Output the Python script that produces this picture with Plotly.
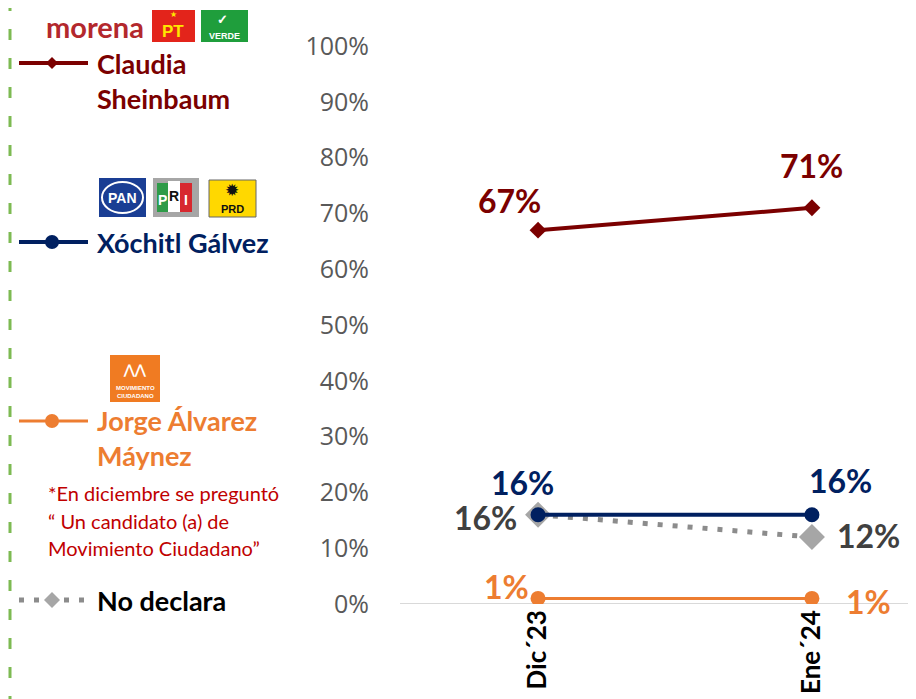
import plotly.graph_objects as go

# --- datos ---
meses = ["Dic´23", "Ene´24"]
claudia = [67, 71]
xochitl = [16, 16]
jorge = [1, 1]
no_declara = [16, 12]
y_ticks = [0, 10, 20, 30, 40, 50, 60, 70, 80, 90, 100]
y_tick_labels = [f"{v}%" for v in y_ticks]

ROJO = "#7b0000"
AZUL = "#002060"
NARANJA = "#ed7d31"
GRIS = "#a6a6a6"
FUENTE = "Lato"

# la página tiene 8px de margen en el body: se descuentan aquí
OFF = 8
W, H = 916, 699
L, R, T, B = 400 - OFF, OFF, 46 - OFF, H - (604 - OFF)
ANCHO_PLOT = W - L - R
ALTO_PLOT = H - T - B


def px(x):
    # x en píxeles de la imagen -> coordenada paper
    return (x - OFF - L) / ANCHO_PLOT


def py(y):
    return (H - B - (y - OFF)) / ALTO_PLOT


fig = go.Figure()

fig.add_trace(go.Scatter(x=meses, y=claudia, mode="lines+markers",
                         line=dict(color=ROJO, width=4),
                         marker=dict(symbol="diamond", size=13, color=ROJO)))
fig.add_trace(go.Scatter(x=meses, y=no_declara, mode="lines",
                         line=dict(color="#8c8c8c", width=5, dash="5px,10px")))
fig.add_trace(go.Scatter(x=meses, y=no_declara, mode="markers",
                         marker=dict(symbol="diamond", size=20, color=GRIS)))
fig.add_trace(go.Scatter(x=meses, y=xochitl, mode="lines+markers",
                         line=dict(color=AZUL, width=4),
                         marker=dict(symbol="circle", size=15, color=AZUL)))
fig.add_trace(go.Scatter(x=meses, y=jorge, mode="lines+markers",
                         line=dict(color=NARANJA, width=3),
                         marker=dict(symbol="circle", size=15, color=NARANJA)))

# etiquetas de datos
etiquetas = [
    (claudia, ROJO, [(-29, 30), (0, 42)]),
    (xochitl, AZUL, [(-16, 32), (29, 34)]),
    (no_declara, "#404040", [(-53, -3), (57, 2)]),
    (jorge, NARANJA, [(-32, 12), (57, -3)]),
]
anns = []
for serie, color, desplaz in etiquetas:
    for i, v in enumerate(serie):
        anns.append(dict(x=meses[i], y=v, xref="x", yref="y", text=f"{v}%",
                         showarrow=False, xshift=desplaz[i][0], yshift=desplaz[i][1],
                         font=dict(family=FUENTE, size=32, color=color, weight="bold")))

# leyenda manual
shapes = [
    dict(type="line", xref="paper", yref="paper", x0=px(10), x1=px(10), y0=py(0), y1=py(H + 10),
         line=dict(color="#7dba52", width=3, dash="11px,18px")),
    dict(type="line", xref="paper", yref="y", x0=0, x1=1, y0=0, y1=0,
         line=dict(color="#d9d9d9", width=2), layer="below"),
]
leyenda = [
    (63, ROJO, "solid", 4, "diamond", 12, ROJO),
    (242, AZUL, "solid", 4, "circle", 14, AZUL),
    (421, NARANJA, "solid", 3, "circle", 14, NARANJA),
    (600, "#8c8c8c", "5px,10px", 5, "diamond", 16, GRIS),
]
for y, color, dash, ancho, simb, tam, relleno in leyenda:
    shapes.append(dict(type="line", xref="paper", yref="paper", x0=px(19), x1=px(88),
                       y0=py(y), y1=py(y), line=dict(color=color, width=ancho, dash=dash)))
    dx, dy = tam / 2 / ANCHO_PLOT, tam / 2 / ALTO_PLOT
    cx, cy = px(52), py(y)
    if simb == "circle":
        shapes.append(dict(type="circle", xref="paper", yref="paper", x0=cx - dx, x1=cx + dx,
                           y0=cy - dy, y1=cy + dy, fillcolor=relleno, line=dict(width=0)))
    else:
        shapes.append(dict(type="path", xref="paper", yref="paper",
                           path=f"M {cx - dx} {cy} L {cx} {cy + dy} L {cx + dx} {cy} L {cx} {cy - dy} Z",
                           fillcolor=relleno, line=dict(width=0)))

textos = [
    (95, 63, "Claudia", ROJO, 27, "bold"),
    (95, 98, "Sheinbaum", ROJO, 27, "bold"),
    (95, 242, "Xóchitl Gálvez", AZUL, 27, "bold"),
    (95, 420, "Jorge Álvarez", NARANJA, 27, "bold"),
    (95, 456, "Máynez", NARANJA, 27, "bold"),
    (46, 493, "*En diciembre se preguntó", "#c00000", 20, "normal"),
    (46, 521, "“ Un candidato (a) de", "#c00000", 20, "normal"),
    (46, 548, "Movimiento Ciudadano”", "#c00000", 20, "normal"),
    (95, 600, "No declara", "#000000", 27, "bold"),
]
for x, y, t, color, tam, peso in textos:
    anns.append(dict(x=px(x), y=py(y), xref="paper", yref="paper", text=t, showarrow=False,
                     xanchor="left", yanchor="middle",
                     font=dict(family=FUENTE, size=tam, color=color, weight=peso)))


def caja(x0, y0, x1, y1, fondo, borde=None):
    shapes.append(dict(type="rect", xref="paper", yref="paper", x0=px(x0), x1=px(x1),
                       y0=py(y0), y1=py(y1), fillcolor=fondo,
                       line=dict(width=1 if borde else 0, color=borde or fondo)))


def texto(x, y, t, color, tam, familia="Liberation Sans"):
    anns.append(dict(x=px(x), y=py(y), xref="paper", yref="paper", text=t, showarrow=False,
                     xanchor="center", yanchor="middle", borderpad=0,
                     font=dict(family=familia, size=tam, color=color)))


# logos (aproximados con formas y texto)
texto(95, 27, "<b>morena</b>", "#b3282d", 29, "Lato")
caja(152, 10, 195, 42, "#e3241b")
texto(173, 15, "★", "#ffe600", 8)
texto(173, 31, "<b>PT</b>", "#ffe600", 17)
caja(201, 10, 248, 42, "#1f9e3c")
texto(222, 20, "<b>✓</b>", "#ffffff", 13)
texto(224, 36, "<b>VERDE</b>", "#ffffff", 9)

caja(99, 178, 146, 217, "#1a3e94")
shapes.append(dict(type="circle", xref="paper", yref="paper", x0=px(102), x1=px(143),
                   y0=py(182), y1=py(213), line=dict(color="#ffffff", width=2)))
texto(122, 198, "<b>PAN</b>", "#ffffff", 14)
caja(153, 178, 199, 217, "#a6a6a6")
caja(157, 183, 168, 212, "#2e9b48")
caja(168, 181, 180, 212, "#ffffff")
caja(180, 183, 192, 212, "#d7282f")
texto(162, 200, "<b>P</b>", "#ffffff", 14)
texto(174, 196, "<b>R</b>", "#111111", 14)
texto(186, 200, "<b>I</b>", "#ffffff", 14)
caja(209, 180, 256, 217, "#ffd800", "#666666")
texto(232, 191, "✹", "#111111", 17)
texto(232, 209, "<b>PRD</b>", "#111111", 11)

caja(110, 355, 160, 402, "#f07b22")
texto(135, 370, "<b>⋀⋀</b>", "#ffffff", 13)
texto(135, 392, "<b>MOVIMIENTO<br>CIUDADANO</b>", "#ffffff", 6)

fig.update_layout(
    width=W, height=H,
    margin=dict(l=L, r=R, t=T, b=B),
    paper_bgcolor="white", plot_bgcolor="white",
    showlegend=False,
    shapes=shapes, annotations=anns,
    xaxis=dict(type="category", range=[-0.504, 1.38], showgrid=False, zeroline=False,
               showline=False, ticks="", tickangle=-90,
               tickfont=dict(family=FUENTE, size=26, color="#000000", weight="bold")),
    yaxis=dict(range=[0, 100], tickvals=y_ticks, ticktext=y_tick_labels, showgrid=False,
               zeroline=False, showline=False, ticklabelstandoff=30,
               tickfont=dict(family="Open Sans", size=25, color="#595959")),
)

fig.write_html("out.html")
